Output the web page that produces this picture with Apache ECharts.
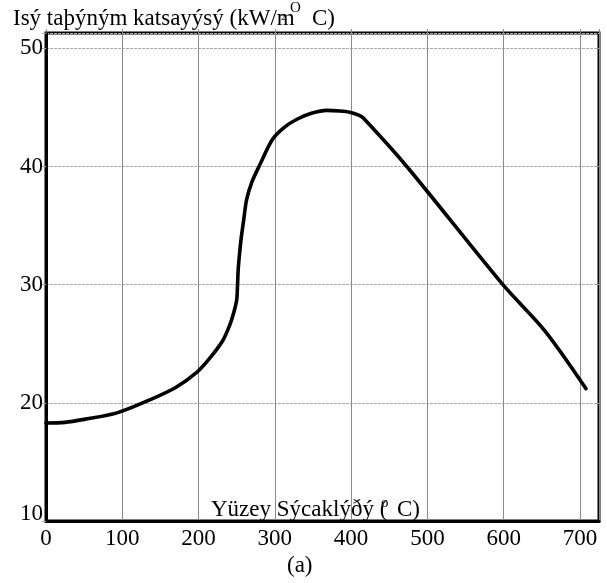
<!DOCTYPE html>
<html><head><meta charset="utf-8">
<script src="https://cdn.jsdelivr.net/npm/echarts@6/dist/echarts.min.js"></script>
<style>html,body{margin:0;padding:0;background:#fff}#c{width:607px;height:583px}</style>
</head><body><div id="c"></div>
<script>
// Surface temperature (°C)
var temperature = [0, 25, 50, 93, 136, 170, 198, 215, 232, 241, 246, 250, 251, 252, 254, 256, 259, 263, 270, 280, 297, 312, 329, 348, 368, 385, 398, 410, 416, 473, 599, 654, 708];
// Heat transfer coefficient (kW/m2 °C)
var coefficient = [18.3, 18.35, 18.6, 19.15, 20.25, 21.3, 22.6, 23.8, 25.3, 26.6, 27.6, 28.7, 29.8, 31.3, 32.8, 34.0, 35.4, 37.2, 38.7, 40.1, 42.3, 43.3, 44.0, 44.5, 44.75, 44.7, 44.6, 44.35, 44.1, 40.0, 30.0, 26.1, 21.2];
var xTicks = [0, 100, 200, 300, 400, 500, 600, 700];
var yTicks = [10, 20, 30, 40, 50];

var FONT = '"Liberation Serif", "DejaVu Serif", serif';
var chart = echarts.init(document.getElementById('c'), null, {renderer: 'canvas'});
var pts = temperature.map(function (t, i) { return [t, coefficient[i]]; });

chart.setOption({
  animation: false,
  backgroundColor: '#fff',
  grid: {left: 46, right: 8, top: 33, bottom: 62, show: true, borderColor: '#000', borderWidth: 3, backgroundColor: 'transparent'},
  xAxis: [{
    type: 'value', min: 0, max: 725, interval: 100, position: 'bottom',
    axisLine: {show: true, lineStyle: {color: '#000', width: 3}},
    axisTick: {show: false},
    axisLabel: {margin: 6, color: '#000', fontFamily: FONT, fontSize: 23,
      formatter: function (v) { return xTicks.indexOf(v) >= 0 ? String(v) : ''; }},
    splitLine: {show: true, lineStyle: {color: '#8a8a8a', width: 1, type: 'solid'}}
  }, {
    type: 'value', min: 0, max: 725, interval: 100, position: 'top',
    axisLine: {show: false},
    axisTick: {show: true, inside: false, length: 4, lineStyle: {color: '#8a8a8a', width: 1}},
    axisLabel: {show: false},
    splitLine: {show: false}
  }],
  yAxis: {
    type: 'value', min: 10, max: 51.3, interval: 10,
    axisLine: {show: true, lineStyle: {color: '#000', width: 3}},
    axisTick: {show: true, length: 4, lineStyle: {color: '#aaa', width: 1}},
    axisLabel: {margin: 3, color: '#000', fontFamily: FONT, fontSize: 23,
      formatter: function (v) {
        if (yTicks.indexOf(v) < 0) return '';
        return v === 10 ? '{lo|' + v + '}' : String(v);
      },
      rich: {lo: {fontFamily: FONT, fontSize: 23, color: '#000', padding: [0, 0, 14, 0]}}
    },
    splitLine: {show: true, lineStyle: {color: '#aaa', width: 1, type: [3, 1]}}
  },
  series: [{
    type: 'line', data: pts, showSymbol: false, smooth: 0.3,
    lineStyle: {color: '#000', width: 3.6, cap: 'round', join: 'round'},
    z: 5
  }],
  graphic: [
    {type: 'text', left: 13, top: 7, z: 10, style: {text: 'Isý taþýným katsayýsý (kW/m', font: '23px ' + FONT, fill: '#000'}},
    {type: 'text', left: 281, top: 13, z: 10, style: {text: '2', font: '9px ' + FONT, fill: '#000'}},
    {type: 'text', left: 290, top: 1, z: 10, style: {text: 'O', font: '15px ' + FONT, fill: '#000'}},
    {type: 'text', left: 312, top: 7, z: 10, style: {text: 'C)', font: '23px ' + FONT, fill: '#000'}},
    {type: 'text', left: 211, top: 498, z: 10, style: {text: 'Yüzey Sýcaklýðý (', font: '23px ' + FONT, fill: '#000'}},
    {type: 'text', left: 381, top: 496, z: 10, style: {text: 'o', font: '15px ' + FONT, fill: '#000'}},
    {type: 'text', left: 397, top: 498, z: 10, style: {text: 'C)', font: '23px ' + FONT, fill: '#000'}},
    {type: 'text', left: 287, top: 554, z: 10, style: {text: '(a)', font: '23px ' + FONT, fill: '#000'}}
  ]
});
</script></body></html>
